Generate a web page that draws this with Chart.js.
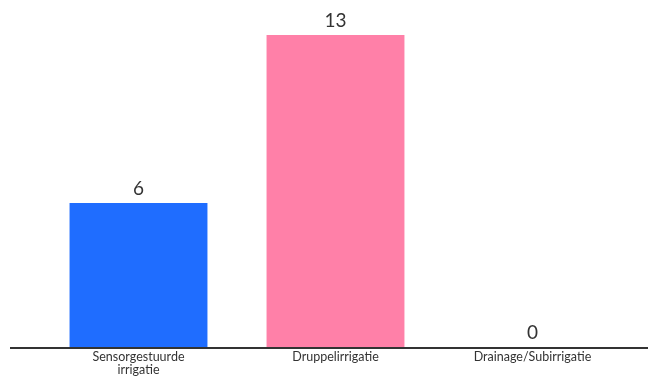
<!DOCTYPE html>
<html>
<head>
<meta charset="utf-8">
<script src="https://cdn.jsdelivr.net/npm/chart.js@4"></script>
<style>
  body { margin: 0; background: #fff; }
</style>
</head>
<body>
<canvas id="chart" width="648" height="381"></canvas>
<script>
const categories = [["Sensorgestuurde", "irrigatie"], "Druppelirrigatie", "Drainage/Subirrigatie"];
const values = [6, 13, 0];
const colors = ["#1f6dff", "#ff80a8", "#b3b3b3"];

// value labels above each bar + a long baseline
const barLabels = {
    id: "barLabels",
    afterDatasetsDraw(chart) {
        const ctx = chart.ctx;
        const meta = chart.getDatasetMeta(0);
        ctx.save();
        ctx.fillStyle = "#333";
        ctx.font = "19px Lato";
        ctx.textAlign = "center";
        ctx.textBaseline = "bottom";
        meta.data.forEach((bar, i) => {
            ctx.fillText(values[i], bar.x, bar.y - 5);
        });
        const y0 = chart.scales.y.getPixelForValue(0);
        ctx.strokeStyle = "#333";
        ctx.lineWidth = 2;
        ctx.beginPath();
        ctx.moveTo(10, y0 + 1);
        ctx.lineTo(648, y0 + 1);
        ctx.stroke();
        ctx.restore();
    }
};

const context = document.getElementById("chart").getContext("2d");
const chart = new Chart(context, {
    type: "bar",
    data: {
        labels: categories,
        datasets: [{
            data: values,
            backgroundColor: colors,
            categoryPercentage: 1,
            barPercentage: 0.7
        }]
    },
    options: {
        responsive: false,
        animation: false,
        layout: { padding: { left: 40, right: 17, top: 35, bottom: 0 } },
        plugins: { legend: { display: false }, tooltip: { enabled: false } },
        scales: {
            x: {
                grid: { display: false, drawTicks: false },
                border: { display: false },
                afterFit: (scale) => { scale.height = 34; },
                ticks: { color: "#333", font: { family: "Lato", size: 12.5, lineHeight: 1.08 }, maxRotation: 0, padding: 3 }
            },
            y: {
                display: false,
                min: 0,
                max: 13
            }
        }
    },
    plugins: [barLabels]
});
</script>
</body>
</html>
